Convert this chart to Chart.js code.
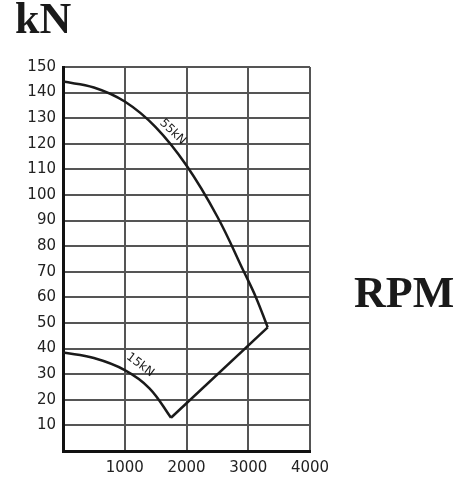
<!DOCTYPE html>
<html>
<head>
<meta charset="utf-8">
<script src="https://cdn.jsdelivr.net/npm/chart.js@4"></script>
<style>
  html, body { margin: 0; padding: 0; background: #fff; }
  #wrap { position: relative; width: 457px; height: 480px; }
  canvas { position: absolute; left: 0; top: 0; }
  .big { position: absolute; font-family: "Liberation Serif", serif; font-weight: bold; font-size: 44px; color: #1a1a1a; line-height: 1; }
</style>
</head>
<body>
<div id="wrap">
  <canvas id="thrust" width="457" height="480"></canvas>
  <div class="big" style="left:15px; top:-3px;">kN</div>
  <div class="big" style="left:354px; top:271px;">RPM</div>
</div>
<script>
const ctx = document.getElementById('thrust');

// rpm / kN
const rpm55 = [0, 500, 1000, 1500, 2000, 2500, 2930, 3125, 3315];
const kn55  = [144.3, 142, 136.5, 126.5, 111.5, 91.5, 70, 60, 48.3];

const rpm15 = [0, 500, 1000, 1400, 1749];
const kn15  = [38.5, 36.3, 31.6, 24.5, 13];

// straight closing line between the two curves
const rpmLink = [3315, 1749];
const knLink  = [48.3, 13];

const xTicks = [1000, 2000, 3000, 4000];
const yTicks = [10, 20, 30, 40, 50, 60, 70, 80, 90, 100, 110, 120, 130, 140, 150];

const curveLabels = [
  {text: '55kN', x: 1775, y: 124.6, angle: 44},
  {text: '15kN', x: 1250, y: 33.6, angle: 37}
];

const pts = (xs, ys) => xs.map((x, i) => ({x: x, y: ys[i]}));

const lineStyle = {
  borderColor: '#1a1a1a',
  borderWidth: 2.5,
  pointRadius: 0,
  showLine: true,
  fill: false
};

const curveText = {
  id: 'curveText',
  afterDatasetsDraw(chart) {
    const c = chart.ctx;
    const xs = chart.scales.x, ys = chart.scales.y;
    c.save();
    c.fillStyle = '#1a1a1a';
    c.font = '12px "DejaVu Sans", sans-serif';
    c.textAlign = 'center';
    c.textBaseline = 'middle';
    curveLabels.forEach(l => {
      c.save();
      c.translate(xs.getPixelForValue(l.x), ys.getPixelForValue(l.y));
      c.rotate(l.angle * Math.PI / 180);
      c.fillText(l.text, 0, 0);
      c.restore();
    });
    c.restore();
  }
};

new Chart(ctx, {
  type: 'scatter',
  data: {
    datasets: [
      Object.assign({label: '55kN', data: pts(rpm55, kn55), tension: 0.4}, lineStyle),
      Object.assign({label: 'link', data: pts(rpmLink, knLink), tension: 0}, lineStyle),
      Object.assign({label: '15kN', data: pts(rpm15, kn15), tension: 0.4}, lineStyle)
    ]
  },
  options: {
    responsive: false,
    animation: false,
    layout: {padding: {top: 67, right: 147, left: 0, bottom: 0}},
    plugins: {legend: {display: false}, tooltip: {enabled: false}},
    scales: {
      x: {
        type: 'linear',
        min: 0,
        max: 4000,
        afterFit: s => { s.height = 29; },
        afterBuildTicks: s => { s.ticks = xTicks.map(v => ({value: v})); },
        grid: {color: '#555', lineWidth: 2, drawTicks: false},
        border: {color: '#111', width: 3},
        ticks: {
          color: '#222',
          font: {family: 'DejaVu Sans', size: 15},
          padding: 8,
          maxRotation: 0,
          callback: v => String(v)
        }
      },
      y: {
        min: 0,
        max: 150,
        afterFit: s => { s.width = 63; },
        afterBuildTicks: s => { s.ticks = [0].concat(yTicks).map(v => ({value: v})); },
        grid: {color: '#555', lineWidth: 2, drawTicks: false},
        border: {color: '#111', width: 3},
        ticks: {
          color: '#222',
          font: {family: 'DejaVu Sans', size: 15},
          padding: 7,
          callback: v => v === 0 ? '' : String(v)
        }
      }
    }
  },
  plugins: [curveText]
});
</script>
</body>
</html>
